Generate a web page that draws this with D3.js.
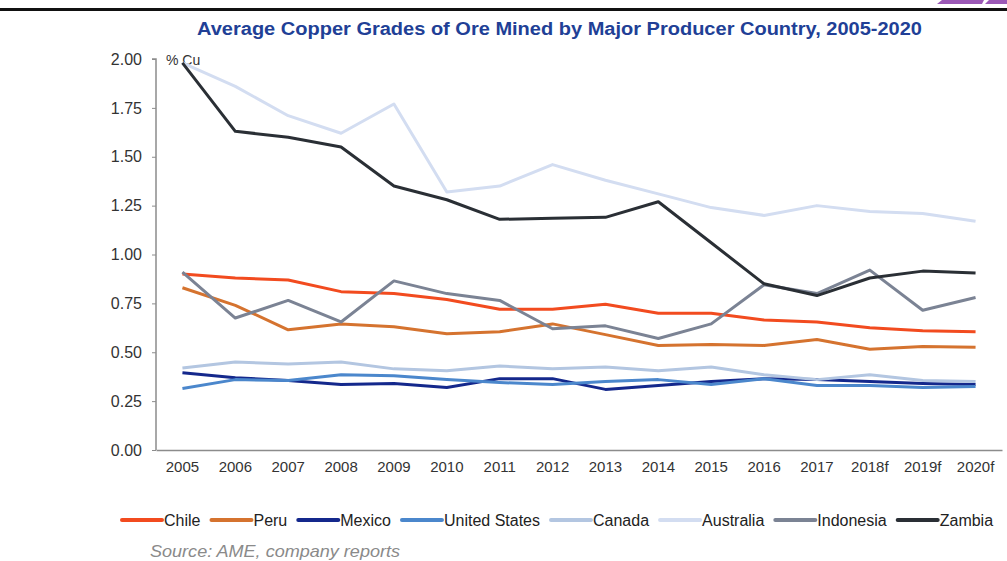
<!DOCTYPE html>
<html>
<head>
<meta charset="utf-8">
<script src="https://cdn.jsdelivr.net/npm/d3@7"></script>
<style>
  body { margin: 0; background: #fff; }
  svg { display: block; font-family: "Liberation Sans", Arial, sans-serif; }
</style>
</head>
<body>
<script>
const WIDTH = 1007;
const HEIGHT = 561;

const years = ['2005', '2006', '2007', '2008', '2009', '2010', '2011', '2012',
  '2013', '2014', '2015', '2016', '2017', '2018f', '2019f', '2020f'];
const yTicks = [0, 0.25, 0.5, 0.75, 1.0, 1.25, 1.5, 1.75, 2.0];

const countries = ['Chile', 'Peru', 'Mexico', 'United States', 'Canada', 'Australia', 'Indonesia', 'Zambia'];
const colors = ['#f24b1f', '#d5732f', '#14288c', '#4b87cc', '#b3c6e1', '#d3ddf1', '#7b8394', '#2a2f35'];

const chile = [0.90, 0.88, 0.87, 0.81, 0.80, 0.77, 0.72, 0.72, 0.745, 0.70, 0.70, 0.665, 0.655, 0.625, 0.61, 0.605];
const peru = [0.83, 0.74, 0.615, 0.645, 0.63, 0.595, 0.605, 0.645, 0.59, 0.535, 0.54, 0.535, 0.565, 0.515, 0.53, 0.525];
const mexico = [0.395, 0.37, 0.355, 0.335, 0.34, 0.32, 0.365, 0.365, 0.31, 0.33, 0.35, 0.365, 0.36, 0.35, 0.34, 0.335];
const unitedStates = [0.315, 0.36, 0.355, 0.385, 0.38, 0.36, 0.345, 0.335, 0.35, 0.36, 0.335, 0.365, 0.33, 0.33, 0.32, 0.325];
const canada = [0.42, 0.45, 0.44, 0.45, 0.415, 0.405, 0.43, 0.415, 0.425, 0.405, 0.425, 0.385, 0.36, 0.385, 0.355, 0.35];
const australia = [1.98, 1.86, 1.71, 1.62, 1.77, 1.32, 1.35, 1.46, 1.38, 1.31, 1.24, 1.20, 1.25, 1.22, 1.21, 1.17];
const indonesia = [0.91, 0.675, 0.765, 0.655, 0.865, 0.80, 0.765, 0.62, 0.635, 0.57, 0.645, 0.845, 0.80, 0.92, 0.715, 0.78];
const zambia = [1.98, 1.63, 1.60, 1.55, 1.35, 1.28, 1.18, 1.185, 1.19, 1.27, 1.06, 0.85, 0.79, 0.88, 0.915, 0.905];

const series = [chile, peru, mexico, unitedStates, canada, australia, indonesia, zambia];

const svg = d3.select('body').append('svg')
  .attr('width', WIDTH)
  .attr('height', HEIGHT);

// top rule + corner decoration
svg.append('rect').attr('x', 0).attr('y', 8).attr('width', WIDTH).attr('height', 3).attr('fill', '#111');
svg.append('path').attr('d', 'M937,4 L942,0 L984,0 L982,4 Z').attr('fill', '#9b59b6');
svg.append('path').attr('d', 'M985,4 L989,0 L1007,0 L1007,4 Z').attr('fill', '#9b59b6');

svg.append('text')
  .attr('x', 197).attr('y', 35)
  .attr('font-size', 18).attr('font-weight', 'bold')
  .attr('fill', '#213f96')
  .attr('textLength', 725).attr('lengthAdjust', 'spacingAndGlyphs')
  .text('Average Copper Grades of Ore Mined by Major Producer Country, 2005-2020');

const x = d3.scaleBand().domain(years).range([156, 1002]);
const y = d3.scaleLinear().domain([0, 2]).range([450, 59]);

const yAxis = svg.append('g')
  .attr('transform', 'translate(156,0)')
  .call(d3.axisLeft(y).tickValues(yTicks).tickFormat(d3.format('.2f')).tickSize(4).tickPadding(10));
yAxis.select('.domain').attr('stroke', '#8c8c8c').attr('stroke-width', 1.5).attr('d', 'M-4,59H0V450');
yAxis.selectAll('.tick line').attr('stroke', '#8c8c8c');
yAxis.selectAll('.tick text').attr('font-size', 16).attr('fill', '#333').attr('font-family', '"Liberation Sans", Arial, sans-serif');

const xAxis = svg.append('g')
  .attr('transform', 'translate(0,450)')
  .call(d3.axisBottom(x).tickSize(0).tickPadding(11));
xAxis.select('.domain').attr('stroke', '#8c8c8c').attr('stroke-width', 1.5);
xAxis.selectAll('.tick text').attr('font-size', 15).attr('fill', '#333').attr('font-family', '"Liberation Sans", Arial, sans-serif');

svg.append('text')
  .attr('x', 166).attr('y', 65)
  .attr('font-size', 14).attr('fill', '#333')
  .text('% Cu');

const line = d3.line()
  .x((d, i) => x(years[i]) + x.bandwidth() / 2)
  .y(d => y(d));

svg.append('g').selectAll('path')
  .data(series)
  .join('path')
  .attr('d', d => line(d))
  .attr('fill', 'none')
  .attr('stroke', (d, i) => colors[i])
  .attr('stroke-width', 3)
  .attr('stroke-linejoin', 'round');

// legend
const legend = svg.append('g').attr('transform', 'translate(0,520)');
let lx = 122;
countries.forEach((c, i) => {
  const g = legend.append('g');
  g.append('line')
    .attr('x1', lx).attr('x2', lx + 40).attr('y1', 0).attr('y2', 0)
    .attr('stroke', colors[i]).attr('stroke-width', 4).attr('stroke-linecap', 'round');
  const t = g.append('text')
    .attr('x', lx + 42).attr('y', 5.5)
    .attr('font-size', 16).attr('fill', '#222')
    .text(c);
  lx += 42 + t.node().getComputedTextLength() + 11;
});

svg.append('text')
  .attr('x', 150).attr('y', 557)
  .attr('font-size', 17).attr('font-style', 'italic').attr('fill', '#8a8a8a')
  .attr('textLength', 250).attr('lengthAdjust', 'spacingAndGlyphs')
  .text('Source: AME, company reports');
</script>
</body>
</html>
